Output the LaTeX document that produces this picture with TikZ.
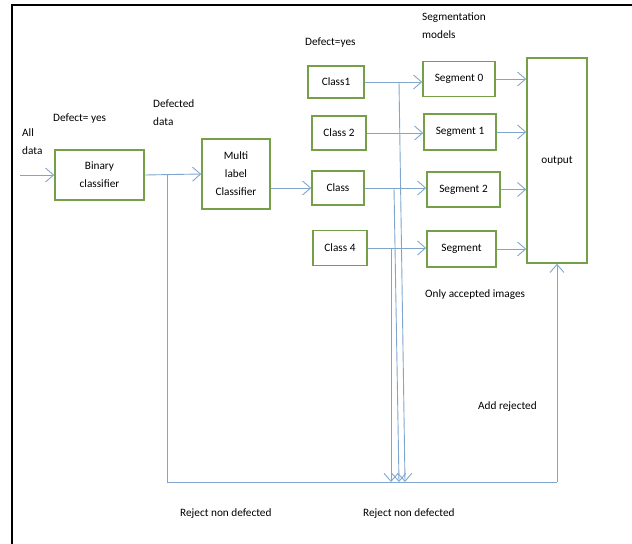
\documentclass[tikz,border=0pt]{standalone}
\usepackage{fontspec}
\setmainfont{Carlito}
\usetikzlibrary{arrows.meta}
\definecolor{lineblue}{RGB}{128,166,206}
\definecolor{boxgreen}{RGB}{118,160,72}
\begin{document}
\begin{tikzpicture}[x=1bp,y=-1bp,
  font=\fontsize{11.3}{18}\selectfont,
  box/.style={draw=boxgreen,line width=1.6bp,align=center,inner sep=0pt},
  conn/.style={draw=lineblue,line width=0.9bp},
  arr/.style={conn,-{Straight Barb[length=8bp,width=14bp,line width=0.9bp]}},
  lbl/.style={anchor=west,align=left,inner sep=0pt}]
\useasboundingbox (0,0) rectangle (632,544);
% frame
\draw[black,line width=2bp] (12,544) -- (12,5) -- (632,5);
% boxes
\node[box,minimum width=89bp,minimum height=50bp] (bin) at (99.5,175) {Binary\\classifier};
\node[box,minimum width=68bp,minimum height=70bp] (multi) at (236,174) {Multi\\label\\Classifier};
\node[box,minimum width=56bp,minimum height=32bp] (c1) at (336,82) {Class1};
\node[box,minimum width=54bp,minimum height=34bp] (c2) at (339,133) {Class 2};
\node[box,minimum width=52bp,minimum height=34bp] (c3) at (338,188) {Class};
\node[box,minimum width=54bp,minimum height=35bp] (c4) at (340,248) {Class 4};
\node[box,minimum width=72bp,minimum height=35bp] (s0) at (459,79) {Segment 0};
\node[box,minimum width=72bp,minimum height=36bp] (s1) at (460,132) {Segment 1};
\node[box,minimum width=73bp,minimum height=35bp] (s2) at (463.5,189.5) {Segment 2};
\node[box,minimum width=69bp,minimum height=36bp] (s3) at (461.5,249) {Segment};
\node[box,minimum width=60bp,minimum height=205bp] (out) at (557,160.5) {output};
% labels
\node[lbl] (alldata) at (22,142) {All\\data};
\node[lbl] (dy1) at (53,119) {Defect= yes};
\node[lbl] (dd) at (153,113) {Defected\\data};
\node[lbl] (dy2) at (305,43) {Defect=yes};
\node[lbl] (segm) at (422,26) {Segmentation\\models};
\node[lbl] (acc) at (425,295) {Only accepted images};
\node[lbl] (addr) at (478,407) {Add rejected};
\node[lbl] (rej1) at (180,514) {Reject non defected};
\node[lbl] (rej2) at (363,514) {Reject non defected};
% coordinates
\coordinate (in) at (20,175);
\coordinate (j1) at (167,175);
\coordinate (b1) at (167,482);
\coordinate (b2) at (557,482);
\coordinate (k1) at (399,82);
\coordinate (k3) at (394,188);
\coordinate (k4) at (391,248);
\coordinate (e1) at (405,482);
\coordinate (e3) at (399,482);
\coordinate (e4) at (391,482);
% connectors
\draw[arr] (in) -- (bin.west);
\draw[arr] (bin.east) -- (multi.west);
\draw[arr] (multi.east |- c3.west) -- (c3.west);
\draw[arr] (c1.east) -- (c1.east -| s0.west);
\draw[arr] (c2.east) -- (c2.east -| s1.west);
\draw[arr] (c3.east) -- (c3.east -| s2.west);
\draw[arr] (c4.east) -- (c4.east -| s3.west);
\draw[arr] (s0.east) -- (s0.east -| out.west);
\draw[arr] (s1.east) -- (s1.east -| out.west);
\draw[arr] (s2.east) -- (s2.east -| out.west);
\draw[arr] (s3.east) -- (s3.east -| out.west);
\draw[conn] (j1) -- (b1) -- (b2);
\draw[arr] (b2) -- (out.south);
\draw[arr] (k1) -- (e1);
\draw[arr] (k3) -- (e3);
\draw[arr] (k4) -- (e4);
\end{tikzpicture}
\end{document}
